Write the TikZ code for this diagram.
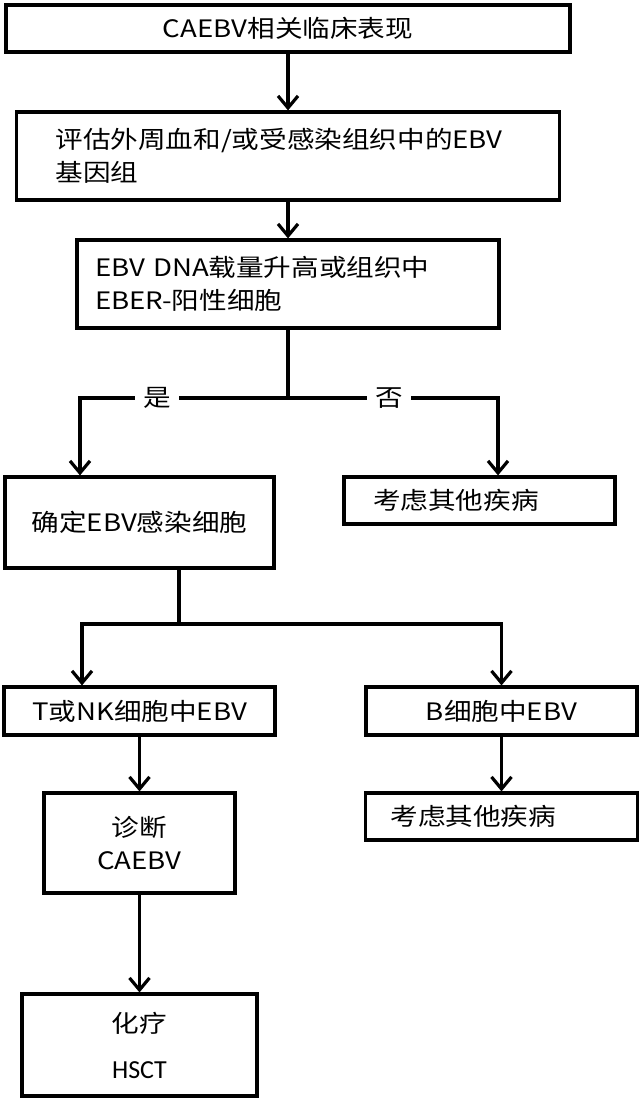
\documentclass[tikz,border=0pt]{standalone}
\usepackage{fontspec}
\setmainfont{Noto Sans CJK SC}[FakeStretch=1.15]
\newfontfamily\hsfont{Carlito}
\usetikzlibrary{arrows.meta}

\begin{document}
\begin{tikzpicture}[x=1pt, y=-1pt, line width=3.2pt, font=\fontsize{24}{33}\selectfont,
	bx/.style={draw, rectangle, inner sep=0pt, align=left},
	arr/.style={-{Straight Barb[length=12pt, width=20pt]}},
	lbl/.style={fill=white, inner xsep=8pt, inner ysep=2pt}]
		\useasboundingbox (0,0) rectangle (640,1100);
	
		\node[bx, minimum width=564pt, minimum height=47pt, align=center] (clin) at (288,28.5) {CAEBV相关临床表现};
		\node[bx, minimum height=88pt, text width=465pt, inner xsep=39pt] (eval) at (288,156) {评估外周血和/或受感染组织中的EBV\\基因组};
		\node[bx, minimum height=88pt, text width=386pt, inner xsep=18pt] (load) at (288,284) {EBV DNA载量升高或组织中\\EBER-阳性细胞};
		\node[bx, minimum width=269pt, minimum height=91pt, align=center] (conf) at (139.5,522.5) {确定EBV感染细胞};
		\node[bx, minimum height=47pt, text width=213pt, inner xsep=29pt] (oth1) at (479.5,500.5) {考虑其他疾病};
		\node[bx, minimum width=271pt, minimum height=48pt, align=center] (tnk) at (139.5,711) {T或NK细胞中EBV};
		\node[bx, minimum width=271pt, minimum height=48pt, align=center] (bcell) at (501.5,711) {B细胞中EBV};
		\node[bx, minimum width=191pt, minimum height=100pt, align=center] (diag) at (139.5,843) {诊断\\CAEBV};
		\node[bx, minimum height=47pt, text width=222pt, inner xsep=25pt] (oth2) at (501.5,816.5) {考虑其他疾病};
		\node[bx, minimum width=235pt, minimum height=102pt, align=center] (treat) at (139.5,1045) {化疗\\[13pt]{\hsfont\fontsize{26}{26}\selectfont HSCT}};
	
		\coordinate (j1) at (288,398); \coordinate (yes) at (80,398); \coordinate (no) at (498,398);
		\coordinate (j2) at (179,624); \coordinate (tl) at (82,624); \coordinate (bl) at (501.5,624);
	
		\draw[arr] (clin) -- (eval); \draw[arr] (eval) -- (load); \draw (load) -- (j1);
		\draw[arr] (j1) -- node[lbl, pos=.63] {是} (yes) -- (yes |- conf.north);
		\draw[arr] (j1) -- node[lbl, pos=.48] {否} (no) -- (no |- oth1.north);
		\draw (conf.south -| j2) -- (j2);
		\draw[arr] (j2) -- (tl) -- (tl |- tnk.north); \draw[arr] (j2) -- (bl) -- (bcell);
		\draw[arr] (tnk) -- (diag); \draw[arr] (bcell) -- (oth2); \draw[arr] (diag) -- (treat);
	\end{tikzpicture}
\end{document}
